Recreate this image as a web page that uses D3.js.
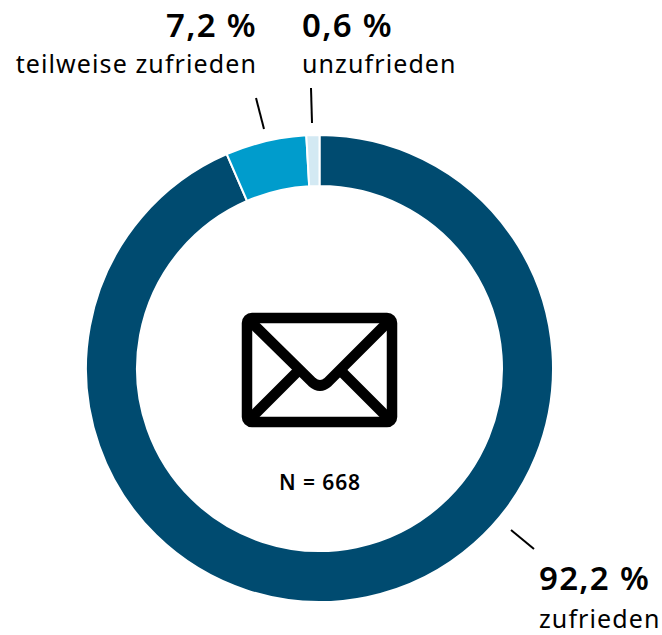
<!DOCTYPE html>
<html>
<head>
<meta charset="utf-8">
<script src="https://cdn.jsdelivr.net/npm/d3@7"></script>
<style>
  html, body { margin: 0; padding: 0; background: #fff; }
  text { font-family: "Noto Sans", sans-serif; fill: #000; }
  .value { font-size: 33px; font-weight: 600; letter-spacing: 1.3px; }
  .name { font-size: 25px; letter-spacing: 1.1px; }
</style>
</head>
<body>
<div id="chart"></div>
<script>
var categories = ["zufrieden", "teilweise zufrieden", "unzufrieden"];
var valueLabels = ["92,2 %", "7,2 %", "0,6 %"];
var shares = [93.5, 5.6, 0.9];
var sliceColors = ["#004b70", "#009ccc", "#d3e9f3"];
var sampleLabel = "N = 668";

var width = 662, height = 635;
var cx = 319.5, cy = 368.5, outer = 233.5, inner = 182.5;

var svg = d3.select("#chart").append("svg")
    .attr("width", width)
    .attr("height", height)
    .style("display", "block");

var color = d3.scaleOrdinal().domain(categories).range(sliceColors);

var pie = d3.pie().sort(null).value(function(d, i) { return shares[i]; });
var arc = d3.arc().innerRadius(inner).outerRadius(outer);

var ring = svg.append("g").attr("transform", "translate(" + cx + "," + cy + ")");

ring.selectAll("path")
    .data(pie(categories))
  .enter().append("path")
    .attr("d", arc)
    .attr("fill", function(d) { return color(d.data); })
    .attr("stroke", "#fff")
    .attr("stroke-width", 2);

// Leader lines
var leaders = [[[511, 530], [534, 549]], [[256, 98], [264, 129]], [[311, 88], [312, 123]]];
svg.selectAll(".leader")
    .data(leaders)
  .enter().append("path")
    .attr("class", "leader")
    .attr("d", d3.line())
    .attr("stroke", "#000")
    .attr("stroke-width", 2)
    .attr("fill", "none");

// Labels
var labelPos = [
  {x: 539, y1: 590, y2: 628, anchor: "start"},
  {x: 257, y1: 37, y2: 73, anchor: "end"},
  {x: 302, y1: 37, y2: 73, anchor: "start"}
];
categories.forEach(function(c, i) {
  var p = labelPos[i];
  svg.append("text").attr("class", "value")
      .attr("x", p.x).attr("y", p.y1).attr("text-anchor", p.anchor).text(valueLabels[i]);
  svg.append("text").attr("class", "name")
      .attr("x", p.x).attr("y", p.y2).attr("text-anchor", p.anchor).text(c);
});

// Envelope icon
var icon = svg.append("g")
    .attr("fill", "none")
    .attr("stroke", "#000")
    .attr("stroke-width", 10.5);
icon.append("rect")
    .attr("x", 247).attr("y", 318)
    .attr("width", 145).attr("height", 104)
    .attr("rx", 5);
icon.append("path")
    .attr("d", "M250,321 L312,382 Q320,389 328,382 L389,321");
icon.append("path")
    .attr("d", "M250,419 L298,371 M389,419 L341,371");

svg.append("text")
    .attr("x", 320).attr("y", 490)
    .attr("text-anchor", "middle")
    .style("font-size", "21px")
    .style("font-weight", 600)
    .style("letter-spacing", "0.9px")
    .text(sampleLabel);
</script>
</body>
</html>
